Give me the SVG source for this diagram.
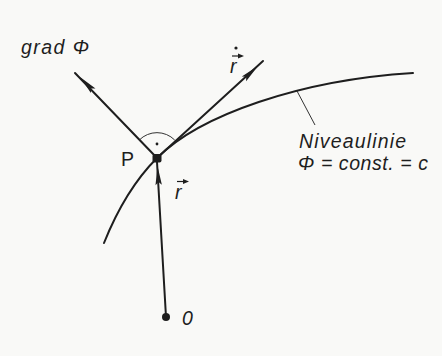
<svg xmlns="http://www.w3.org/2000/svg" width="442" height="356" viewBox="0 0 442 356">
<style>
.ln{stroke:#1e1e1e;stroke-width:2;fill:none;stroke-linecap:round}
.thin{stroke:#333;stroke-width:1;fill:none}
.ah{fill:#1e1e1e}
.t{font-family:"Liberation Sans",Arial,sans-serif;font-style:italic;font-size:19.5px;fill:#1e1e1e}
</style>
<defs>
<path id="ah" d="M0,0 L-19,-3.2 L-16,0 L-19,3.2 Z"/>
<path id="sah" d="M0,0 L-6,-2.5 L-6,2.5 Z"/>
</defs>
<rect width="442" height="356" fill="#f9f9f7"/>
<g id="connectors">
<line class="ln" x1="157" y1="158" x2="75" y2="73"/>
<use href="#ah" class="ah" transform="translate(80,77) rotate(-134)"/>
<line class="ln" x1="157" y1="158" x2="263" y2="61"/>
<use href="#ah" class="ah" transform="translate(258,66) rotate(-42.4)"/>
<line class="ln" x1="166" y1="317" x2="157" y2="162"/>
<use href="#ah" class="ah" transform="translate(157.5,166) rotate(-93.6)"/>
<path class="thin" d="M297,91 L315,125"/>
</g>
<g id="niveaulinie">
<path class="ln" d="M104,243 C118,208 135,180 157,158 C200,115 300,80 413,73"/>
<text class="t" x="299" y="148" textLength="107" lengthAdjust="spacing">Niveaulinie</text>
<text class="t" x="298" y="170" textLength="130" lengthAdjust="spacing">Φ = const. = c</text>
</g>
<g id="P">
<rect x="152.5" y="154" width="9" height="8.5" rx="2" fill="#1e1e1e"/>
<path class="thin" d="M139.3,140 A25,25 0 0 1 174.7,140"/>
<circle cx="157" cy="144" r="1.4" fill="#1e1e1e"/>
<text class="t" x="121" y="166" style="font-style:normal">P</text>
</g>
<g id="O">
<circle cx="166" cy="317" r="4" fill="#1e1e1e"/>
<text class="t" x="182" y="325">0</text>
</g>
<g id="grad">
<text class="t" x="21" y="54" textLength="68" lengthAdjust="spacing">grad Φ</text>
</g>
<g id="rdot">
<circle cx="236" cy="48" r="1.6" fill="#1e1e1e"/>
<line x1="232" y1="56" x2="239" y2="56" stroke="#1e1e1e" stroke-width="1.2"/>
<use href="#sah" class="ah" transform="translate(244,56)"/>
<text class="t" x="230" y="73">r</text>
</g>
<g id="rvec">
<line x1="177" y1="181.5" x2="184" y2="181.5" stroke="#1e1e1e" stroke-width="1.2"/>
<use href="#sah" class="ah" transform="translate(189,181.5)"/>
<text class="t" x="175" y="199">r</text>
</g>
</svg>
